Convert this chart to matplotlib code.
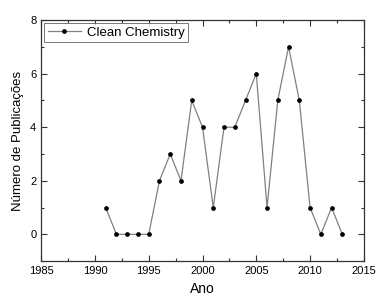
import matplotlib
matplotlib.use("Agg")
import matplotlib.pyplot as plt
from matplotlib.ticker import MultipleLocator

plt.rcParams['font.family'] = ['Liberation Sans', 'DejaVu Sans']

anos = [1991, 1992, 1993, 1994, 1995, 1996, 1997, 1998, 1999, 2000, 2001, 2002,
        2003, 2004, 2005, 2006, 2007, 2008, 2009, 2010, 2011, 2012, 2013]
publicacoes = [1, 0, 0, 0, 0, 2, 3, 2, 5, 4, 1, 4,
               4, 5, 6, 1, 5, 7, 5, 1, 0, 1, 0]

fig = plt.figure(figsize=(3.81, 3.04), dpi=100)
ax = fig.add_axes([0.108, 0.141, 0.847, 0.793])

ax.plot(anos, publicacoes, "-", color="#808080", lw=0.9,
        marker="o", markersize=2.4, markerfacecolor="black",
        markeredgecolor="black", label="Clean Chemistry")

ax.set_xlim(1985, 2015)
ax.set_ylim(-1, 8)
ax.xaxis.set_major_locator(MultipleLocator(5))
ax.xaxis.set_minor_locator(MultipleLocator(2.5))
ax.yaxis.set_major_locator(MultipleLocator(2))
ax.yaxis.set_minor_locator(MultipleLocator(1))
ax.tick_params(which="both", direction="in", top=True, right=True,
               labelsize=8, color="#333333", width=0.8)
ax.tick_params(which="major", length=4)
ax.tick_params(which="minor", length=2.5)
for s in ax.spines.values():
    s.set_linewidth(0.9)
    s.set_color("#333333")

ax.set_xlabel("Ano", fontsize=10)
ax.set_ylabel("Número de Publicações", fontsize=9.5)

leg = ax.legend(loc="upper left", fontsize=9.5, fancybox=False,
                edgecolor="#555555", borderaxespad=0.25, handlelength=2.5,
                borderpad=0.25, handletextpad=0.5)
leg.get_frame().set_linewidth(0.7)

fig.savefig("out.png", dpi=100)
